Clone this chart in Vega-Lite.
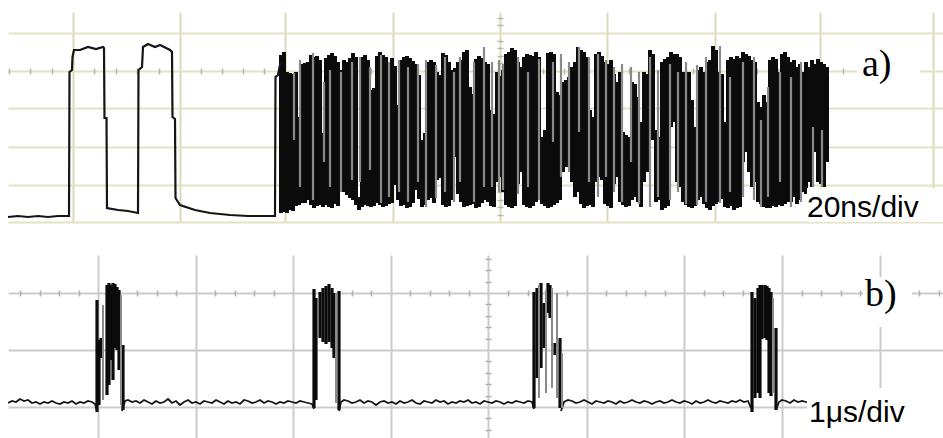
{
"$schema": "https://vega.github.io/schema/vega-lite/v6.json",
"padding": {"left": 8, "top": 12, "right": 0, "bottom": 0},
"background": "white",
"spacing": 33,
"bounds": "flush",
"config": {"view": {"stroke": null}},
"datasets": {
"aBlack": [{"x":273,"hi":167,"lo":9},{"x":276,"hi":170,"lo":10},{"x":279,"hi":150,"lo":9},{"x":282,"hi":149,"lo":12},{"x":285,"hi":148,"lo":11},{"x":288,"hi":150,"lo":16},{"x":291,"hi":105,"lo":17},{"x":294,"hi":158,"lo":19},{"x":297,"hi":159,"lo":19},{"x":300,"hi":160,"lo":22},{"x":303,"hi":167,"lo":17},{"x":306,"hi":165,"lo":14},{"x":309,"hi":166,"lo":16},{"x":312,"hi":162,"lo":17},{"x":315,"hi":89,"lo":15},{"x":318,"hi":164,"lo":17},{"x":321,"hi":167,"lo":15},{"x":324,"hi":169,"lo":14},{"x":327,"hi":166,"lo":18},{"x":330,"hi":160,"lo":16},{"x":333,"hi":152,"lo":34},{"x":336,"hi":162,"lo":30},{"x":339,"hi":160,"lo":27},{"x":342,"hi":164,"lo":24},{"x":345,"hi":169,"lo":22},{"x":348,"hi":165,"lo":17},{"x":351,"hi":25,"lo":12},{"x":354,"hi":165,"lo":15},{"x":357,"hi":167,"lo":17},{"x":360,"hi":162,"lo":16},{"x":363,"hi":132,"lo":15},{"x":366,"hi":134,"lo":16},{"x":369,"hi":166,"lo":19},{"x":372,"hi":170,"lo":17},{"x":375,"hi":167,"lo":15},{"x":378,"hi":165,"lo":16},{"x":381,"hi":160,"lo":18},{"x":384,"hi":164,"lo":19},{"x":387,"hi":156,"lo":37},{"x":390,"hi":117,"lo":22},{"x":393,"hi":162,"lo":16},{"x":396,"hi":165,"lo":17},{"x":399,"hi":166,"lo":14},{"x":402,"hi":164,"lo":15},{"x":405,"hi":161,"lo":19},{"x":408,"hi":158,"lo":32},{"x":411,"hi":147,"lo":23},{"x":414,"hi":82,"lo":15},{"x":417,"hi":89,"lo":17},{"x":420,"hi":160,"lo":22},{"x":423,"hi":162,"lo":24},{"x":426,"hi":160,"lo":19},{"x":429,"hi":150,"lo":42},{"x":432,"hi":147,"lo":44},{"x":435,"hi":169,"lo":17},{"x":438,"hi":167,"lo":15},{"x":441,"hi":160,"lo":16},{"x":444,"hi":152,"lo":22},{"x":447,"hi":154,"lo":65},{"x":450,"hi":160,"lo":28},{"x":453,"hi":162,"lo":20},{"x":456,"hi":170,"lo":15},{"x":459,"hi":172,"lo":16},{"x":462,"hi":135,"lo":17},{"x":465,"hi":128,"lo":18},{"x":468,"hi":163,"lo":14},{"x":471,"hi":166,"lo":15},{"x":474,"hi":164,"lo":19},{"x":477,"hi":160,"lo":22},{"x":480,"hi":158,"lo":20},{"x":483,"hi":112,"lo":16},{"x":486,"hi":108,"lo":15},{"x":489,"hi":150,"lo":40},{"x":492,"hi":146,"lo":45},{"x":495,"hi":152,"lo":30},{"x":498,"hi":168,"lo":17},{"x":501,"hi":170,"lo":15},{"x":504,"hi":174,"lo":14},{"x":507,"hi":172,"lo":16},{"x":510,"hi":160,"lo":38},{"x":513,"hi":155,"lo":50},{"x":516,"hi":165,"lo":17},{"x":519,"hi":168,"lo":15},{"x":522,"hi":167,"lo":14},{"x":525,"hi":166,"lo":16},{"x":528,"hi":170,"lo":20},{"x":531,"hi":165,"lo":24},{"x":534,"hi":85,"lo":18},{"x":537,"hi":92,"lo":16},{"x":540,"hi":169,"lo":14},{"x":543,"hi":170,"lo":15},{"x":546,"hi":168,"lo":17},{"x":549,"hi":130,"lo":19},{"x":552,"hi":127,"lo":22},{"x":555,"hi":140,"lo":50},{"x":558,"hi":142,"lo":55},{"x":561,"hi":145,"lo":60},{"x":564,"hi":155,"lo":40},{"x":567,"hi":160,"lo":25},{"x":570,"hi":175,"lo":30},{"x":573,"hi":172,"lo":18},{"x":576,"hi":170,"lo":14},{"x":579,"hi":165,"lo":16},{"x":582,"hi":112,"lo":17},{"x":585,"hi":105,"lo":15},{"x":588,"hi":168,"lo":40},{"x":591,"hi":170,"lo":45},{"x":594,"hi":166,"lo":42},{"x":597,"hi":160,"lo":18},{"x":600,"hi":158,"lo":16},{"x":603,"hi":162,"lo":14},{"x":606,"hi":148,"lo":38},{"x":609,"hi":140,"lo":45},{"x":612,"hi":150,"lo":20},{"x":615,"hi":90,"lo":17},{"x":618,"hi":87,"lo":15},{"x":621,"hi":85,"lo":16},{"x":624,"hi":140,"lo":22},{"x":627,"hi":138,"lo":25},{"x":630,"hi":125,"lo":20},{"x":633,"hi":100,"lo":15},{"x":636,"hi":150,"lo":40},{"x":639,"hi":148,"lo":50},{"x":642,"hi":172,"lo":85},{"x":645,"hi":168,"lo":82},{"x":648,"hi":92,"lo":20},{"x":651,"hi":85,"lo":22},{"x":654,"hi":160,"lo":12},{"x":657,"hi":163,"lo":14},{"x":660,"hi":165,"lo":16},{"x":663,"hi":170,"lo":95},{"x":666,"hi":168,"lo":100},{"x":669,"hi":168,"lo":40},{"x":672,"hi":165,"lo":35},{"x":675,"hi":150,"lo":20},{"x":678,"hi":145,"lo":17},{"x":681,"hi":150,"lo":15},{"x":684,"hi":122,"lo":14},{"x":687,"hi":95,"lo":16},{"x":690,"hi":152,"lo":22},{"x":693,"hi":155,"lo":25},{"x":696,"hi":150,"lo":18},{"x":699,"hi":160,"lo":14},{"x":702,"hi":162,"lo":12},{"x":705,"hi":176,"lo":16},{"x":708,"hi":172,"lo":18},{"x":711,"hi":150,"lo":20},{"x":714,"hi":148,"lo":23},{"x":717,"hi":100,"lo":15},{"x":720,"hi":162,"lo":14},{"x":723,"hi":165,"lo":16},{"x":726,"hi":163,"lo":12},{"x":729,"hi":166,"lo":14},{"x":732,"hi":164,"lo":15},{"x":735,"hi":170,"lo":60},{"x":738,"hi":168,"lo":70},{"x":741,"hi":166,"lo":50},{"x":744,"hi":162,"lo":35},{"x":747,"hi":160,"lo":40},{"x":750,"hi":120,"lo":20},{"x":753,"hi":115,"lo":18},{"x":756,"hi":127,"lo":15},{"x":759,"hi":120,"lo":14},{"x":762,"hi":162,"lo":14},{"x":765,"hi":165,"lo":16},{"x":768,"hi":163,"lo":15},{"x":771,"hi":150,"lo":17},{"x":774,"hi":168,"lo":16},{"x":777,"hi":170,"lo":18},{"x":780,"hi":165,"lo":20},{"x":783,"hi":160,"lo":20},{"x":786,"hi":162,"lo":25},{"x":789,"hi":155,"lo":18},{"x":792,"hi":158,"lo":22},{"x":795,"hi":150,"lo":30},{"x":798,"hi":160,"lo":28},{"x":801,"hi":155,"lo":40},{"x":804,"hi":162,"lo":35},{"x":807,"hi":158,"lo":70},{"x":810,"hi":163,"lo":40},{"x":813,"hi":160,"lo":38},{"x":816,"hi":158,"lo":35},{"x":819,"hi":155,"lo":60}],
"aGrey": [{"x":286,"hi":149,"lo":82},{"x":292,"hi":162,"lo":35},{"x":305,"hi":169,"lo":22},{"x":316,"hi":140,"lo":60},{"x":322,"hi":152,"lo":35},{"x":333,"hi":150,"lo":30},{"x":344,"hi":160,"lo":42},{"x":352,"hi":165,"lo":40},{"x":362,"hi":155,"lo":52},{"x":373,"hi":167,"lo":19},{"x":381,"hi":160,"lo":25},{"x":391,"hi":162,"lo":30},{"x":400,"hi":155,"lo":20},{"x":410,"hi":158,"lo":40},{"x":418,"hi":162,"lo":15},{"x":428,"hi":157,"lo":24},{"x":437,"hi":165,"lo":30},{"x":446,"hi":150,"lo":20},{"x":452,"hi":165,"lo":40},{"x":466,"hi":160,"lo":20},{"x":476,"hi":175,"lo":35},{"x":484,"hi":160,"lo":35},{"x":491,"hi":162,"lo":30},{"x":495,"hi":158,"lo":32},{"x":510,"hi":165,"lo":28},{"x":520,"hi":150,"lo":35},{"x":531,"hi":163,"lo":22},{"x":545,"hi":160,"lo":80},{"x":553,"hi":168,"lo":45},{"x":561,"hi":160,"lo":50},{"x":571,"hi":175,"lo":90},{"x":581,"hi":165,"lo":40},{"x":590,"hi":168,"lo":25},{"x":598,"hi":162,"lo":45},{"x":606,"hi":155,"lo":30},{"x":614,"hi":158,"lo":20},{"x":623,"hi":155,"lo":60},{"x":631,"hi":150,"lo":18},{"x":642,"hi":165,"lo":15},{"x":650,"hi":152,"lo":25},{"x":662,"hi":158,"lo":22},{"x":670,"hi":150,"lo":30},{"x":678,"hi":160,"lo":18},{"x":689,"hi":157,"lo":17},{"x":698,"hi":165,"lo":20},{"x":712,"hi":176,"lo":19},{"x":722,"hi":145,"lo":30},{"x":735,"hi":160,"lo":25},{"x":746,"hi":165,"lo":22},{"x":753,"hi":102,"lo":15},{"x":760,"hi":135,"lo":25},{"x":772,"hi":150,"lo":40},{"x":783,"hi":145,"lo":15},{"x":793,"hi":160,"lo":20},{"x":805,"hi":95,"lo":35},{"x":814,"hi":92,"lo":35}],
"aTrace": [{"x":0,"y":5},{"x":10,"y":6},{"x":20,"y":5},{"x":30,"y":6},{"x":40,"y":5},{"x":50,"y":6},{"x":61,"y":6},{"x":61.5,"y":150},{"x":64,"y":152},{"x":64.5,"y":165},{"x":66,"y":172},{"x":72,"y":172},{"x":80,"y":175},{"x":88,"y":173},{"x":95,"y":175},{"x":96,"y":174},{"x":96.5,"y":104},{"x":98.5,"y":104},{"x":99,"y":14},{"x":110,"y":12},{"x":120,"y":11},{"x":130,"y":9},{"x":130.5,"y":152},{"x":134,"y":155},{"x":135,"y":175},{"x":140,"y":178},{"x":147,"y":175},{"x":152,"y":177},{"x":162,"y":172},{"x":164,"y":170},{"x":164.5,"y":105},{"x":167,"y":103},{"x":167.5,"y":24},{"x":172,"y":17},{"x":187,"y":12},{"x":202,"y":9},{"x":222,"y":7},{"x":240,"y":6},{"x":255,"y":6},{"x":267,"y":6},{"x":267.5,"y":145},{"x":270,"y":147},{"x":272,"y":157},{"x":273,"y":160}],
"aBox": [{"x":849,"x2":912,"y":177,"y2":122},{"x":799,"x2":935,"y":34,"y2":0}],
"aSerif": [{"x":854,"y":146,"t":"a)"}],
"aSans": [{"x":799,"y":5,"t":"20ns/div"}],
"bBlack": [{"x":89,"hi":138,"lo":26},{"x":91,"hi":98,"lo":33},{"x":93,"hi":100,"lo":80},{"x":99,"hi":153,"lo":43},{"x":101,"hi":155,"lo":53},{"x":103,"hi":153,"lo":78},{"x":105,"hi":155,"lo":58},{"x":107,"hi":154,"lo":90},{"x":109,"hi":151,"lo":88},{"x":111,"hi":148,"lo":68},{"x":115,"hi":93,"lo":28},{"x":306,"hi":149,"lo":30},{"x":308,"hi":140,"lo":38},{"x":312,"hi":146,"lo":100},{"x":315,"hi":150,"lo":96},{"x":318,"hi":152,"lo":94},{"x":321,"hi":154,"lo":96},{"x":324,"hi":150,"lo":90},{"x":326,"hi":145,"lo":80},{"x":331,"hi":147,"lo":28},{"x":526,"hi":146,"lo":30},{"x":529,"hi":150,"lo":60},{"x":533,"hi":155,"lo":70},{"x":536,"hi":135,"lo":90},{"x":540,"hi":155,"lo":125},{"x":542,"hi":153,"lo":120},{"x":547,"hi":95,"lo":83},{"x":552,"hi":100,"lo":30},{"x":744,"hi":146,"lo":26},{"x":747,"hi":140,"lo":40},{"x":750,"hi":150,"lo":45},{"x":752,"hi":153,"lo":40},{"x":754,"hi":153,"lo":99},{"x":757,"hi":153,"lo":100},{"x":759,"hi":152,"lo":98},{"x":761,"hi":150,"lo":45},{"x":763,"hi":146,"lo":42},{"x":768,"hi":110,"lo":28}],
"bGrey": [{"x":95,"hi":133,"lo":38},{"x":113,"hi":143,"lo":33},{"x":328,"hi":145,"lo":35},{"x":531,"hi":153,"lo":40},{"x":538,"hi":148,"lo":45},{"x":544,"hi":150,"lo":50},{"x":549,"hi":145,"lo":40},{"x":554,"hi":85,"lo":30},{"x":765,"hi":140,"lo":45}],
"bTrace": [{"x":0,"y":35,"s":1},{"x":4,"y":37,"s":1},{"x":8,"y":36,"s":1},{"x":12,"y":39,"s":1},{"x":16,"y":37,"s":1},{"x":20,"y":38,"s":1},{"x":24,"y":35,"s":1},{"x":28,"y":36,"s":1},{"x":32,"y":34,"s":1},{"x":36,"y":36,"s":1},{"x":40,"y":35,"s":1},{"x":44,"y":37,"s":1},{"x":48,"y":35,"s":1},{"x":52,"y":34,"s":1},{"x":56,"y":36,"s":1},{"x":60,"y":35,"s":1},{"x":64,"y":37,"s":1},{"x":68,"y":34,"s":1},{"x":72,"y":36,"s":1},{"x":76,"y":35,"s":1},{"x":80,"y":37,"s":1},{"x":84,"y":36,"s":1},{"x":87,"y":34,"s":1},{"x":89,"y":27,"s":1},
{"x":114,"y":27,"s":2},{"x":117,"y":37,"s":2},{"x":120,"y":38,"s":2},{"x":124,"y":36,"s":2},{"x":128,"y":37,"s":2},{"x":132,"y":35,"s":2},{"x":136,"y":38,"s":2},{"x":140,"y":36,"s":2},{"x":144,"y":34,"s":2},{"x":148,"y":37,"s":2},{"x":152,"y":35,"s":2},{"x":156,"y":36,"s":2},{"x":160,"y":39,"s":2},{"x":164,"y":35,"s":2},{"x":168,"y":37,"s":2},{"x":172,"y":33,"s":2},{"x":176,"y":36,"s":2},{"x":180,"y":38,"s":2},{"x":184,"y":35,"s":2},{"x":188,"y":36,"s":2},{"x":192,"y":34,"s":2},{"x":196,"y":37,"s":2},{"x":200,"y":36,"s":2},{"x":204,"y":35,"s":2},{"x":208,"y":38,"s":2},{"x":212,"y":36,"s":2},{"x":216,"y":34,"s":2},{"x":220,"y":37,"s":2},{"x":224,"y":35,"s":2},{"x":228,"y":36,"s":2},{"x":232,"y":34,"s":2},{"x":236,"y":38,"s":2},{"x":240,"y":37,"s":2},{"x":244,"y":35,"s":2},{"x":248,"y":36,"s":2},{"x":252,"y":38,"s":2},{"x":256,"y":35,"s":2},{"x":260,"y":37,"s":2},{"x":264,"y":36,"s":2},{"x":268,"y":34,"s":2},{"x":272,"y":36,"s":2},{"x":276,"y":35,"s":2},{"x":280,"y":37,"s":2},{"x":284,"y":36,"s":2},{"x":288,"y":35,"s":2},{"x":292,"y":37,"s":2},{"x":296,"y":36,"s":2},{"x":300,"y":35,"s":2},{"x":304,"y":34,"s":2},{"x":306,"y":29,"s":2},
{"x":331,"y":27,"s":3},{"x":333,"y":36,"s":3},{"x":336,"y":38,"s":3},{"x":340,"y":37,"s":3},{"x":344,"y":35,"s":3},{"x":348,"y":36,"s":3},{"x":352,"y":38,"s":3},{"x":356,"y":35,"s":3},{"x":360,"y":37,"s":3},{"x":364,"y":36,"s":3},{"x":368,"y":33,"s":3},{"x":372,"y":36,"s":3},{"x":376,"y":37,"s":3},{"x":380,"y":35,"s":3},{"x":384,"y":36,"s":3},{"x":388,"y":34,"s":3},{"x":392,"y":37,"s":3},{"x":396,"y":35,"s":3},{"x":400,"y":36,"s":3},{"x":404,"y":38,"s":3},{"x":408,"y":35,"s":3},{"x":412,"y":34,"s":3},{"x":416,"y":37,"s":3},{"x":420,"y":36,"s":3},{"x":424,"y":35,"s":3},{"x":428,"y":38,"s":3},{"x":432,"y":36,"s":3},{"x":436,"y":37,"s":3},{"x":440,"y":34,"s":3},{"x":444,"y":36,"s":3},{"x":448,"y":35,"s":3},{"x":452,"y":37,"s":3},{"x":456,"y":36,"s":3},{"x":460,"y":38,"s":3},{"x":464,"y":35,"s":3},{"x":468,"y":36,"s":3},{"x":472,"y":34,"s":3},{"x":476,"y":37,"s":3},{"x":480,"y":36,"s":3},{"x":484,"y":35,"s":3},{"x":488,"y":37,"s":3},{"x":492,"y":36,"s":3},{"x":496,"y":34,"s":3},{"x":500,"y":36,"s":3},{"x":504,"y":35,"s":3},{"x":508,"y":37,"s":3},{"x":512,"y":36,"s":3},{"x":516,"y":35,"s":3},{"x":520,"y":37,"s":3},{"x":524,"y":36,"s":3},{"x":526,"y":29,"s":3},
{"x":553,"y":27,"s":4},{"x":556,"y":36,"s":4},{"x":560,"y":38,"s":4},{"x":564,"y":37,"s":4},{"x":568,"y":35,"s":4},{"x":572,"y":36,"s":4},{"x":576,"y":38,"s":4},{"x":580,"y":36,"s":4},{"x":584,"y":34,"s":4},{"x":588,"y":37,"s":4},{"x":592,"y":36,"s":4},{"x":596,"y":35,"s":4},{"x":600,"y":37,"s":4},{"x":604,"y":36,"s":4},{"x":608,"y":34,"s":4},{"x":612,"y":37,"s":4},{"x":616,"y":35,"s":4},{"x":620,"y":36,"s":4},{"x":624,"y":38,"s":4},{"x":628,"y":36,"s":4},{"x":632,"y":35,"s":4},{"x":636,"y":37,"s":4},{"x":640,"y":36,"s":4},{"x":644,"y":34,"s":4},{"x":648,"y":36,"s":4},{"x":652,"y":37,"s":4},{"x":656,"y":35,"s":4},{"x":660,"y":36,"s":4},{"x":664,"y":38,"s":4},{"x":668,"y":36,"s":4},{"x":672,"y":35,"s":4},{"x":676,"y":37,"s":4},{"x":680,"y":36,"s":4},{"x":684,"y":34,"s":4},{"x":688,"y":37,"s":4},{"x":692,"y":35,"s":4},{"x":696,"y":36,"s":4},{"x":700,"y":38,"s":4},{"x":704,"y":36,"s":4},{"x":708,"y":35,"s":4},{"x":712,"y":37,"s":4},{"x":716,"y":36,"s":4},{"x":720,"y":35,"s":4},{"x":724,"y":37,"s":4},{"x":728,"y":36,"s":4},{"x":732,"y":38,"s":4},{"x":736,"y":36,"s":4},{"x":740,"y":37,"s":4},{"x":743,"y":30,"s":4},
{"x":768,"y":28,"s":5},{"x":771,"y":36,"s":5},{"x":774,"y":38,"s":5},{"x":778,"y":37,"s":5},{"x":782,"y":35,"s":5},{"x":786,"y":38,"s":5},{"x":790,"y":36,"s":5},{"x":794,"y":37,"s":5},{"x":798,"y":36,"s":5},{"x":802,"y":35,"s":5}],
"bBox": [{"x":855,"x2":904,"y":161,"y2":111},{"x":799,"x2":935,"y":50,"y2":0}],
"bSerif": [{"x":857,"y":132,"t":"b)"}],
"bSans": [{"x":801,"y":16,"t":"1μs/div"}]
},
"vconcat": [
{
"width": 935, "height": 210,
"resolve": {"axis": {"x": "independent", "y": "independent"}},
"layer": [
{"data": {"name": "aBlack"},
 "mark": {"type": "rule", "strokeWidth": 4, "color": "#0b0b0b", "clip": true},
 "encoding": {
  "x": {"field": "x", "type": "quantitative", "scale": {"domain": [0, 935], "nice": false, "zero": false},
   "axis": {"orient": "bottom", "grid": true, "values": [65,172,277,385,492,599,707,812,925], "gridColor": "#dcd9bb", "gridWidth": 2, "ticks": false, "labels": false, "domain": false, "title": null, "zindex": 0}},
  "y": {"field": "hi", "type": "quantitative", "scale": {"domain": [0, 210], "nice": false, "zero": false},
   "axis": {"orient": "left", "grid": true, "values": [0,37,75,114,151,189], "gridColor": "#e4e1c4", "gridWidth": 2, "ticks": false, "labels": false, "domain": false, "title": null, "zindex": 0}},
  "y2": {"field": "lo"}
 }},
{"data": {"name": "aTrace"},
 "mark": {"type": "line", "strokeWidth": 2.2, "color": "#151515", "clip": true},
 "encoding": {
  "x": {"field": "x", "type": "quantitative", "scale": {"domain": [0, 935], "nice": false, "zero": false},
   "axis": {"orient": "top", "offset": -62, "values": [0.8,22.2,43.6,86.4,107.8,129.2,150.6,193,214,235,256,298.6,320.2,341.8,363.4,406.4,427.8,449.2,470.6,513.4,534.8,556.2,577.6,620.6,642.2,663.8,685.4,728,749,770,791,834.6,857.2,879.8,902.4], "ticks": true, "tickSize": 6, "tickWidth": 1.5, "tickColor": "#b9b8a6", "grid": false, "labels": false, "domain": false, "title": null, "zindex": 0}},
  "y": {"field": "y", "type": "quantitative", "scale": {"domain": [0, 210], "nice": false, "zero": false},
   "axis": {"orient": "right", "offset": -446, "values": [7.4,14.8,22.2,29.6,44.6,52.2,59.8,67.4,82.8,90.6,98.4,106.2,121.4,128.8,136.2,143.6,158.6,166.2,173.8,181.4,196.6,204.2], "ticks": true, "tickSize": 6, "tickWidth": 1.5, "tickColor": "#b9b8a6", "grid": false, "labels": false, "domain": false, "title": null, "zindex": 0}}
 }},
{"data": {"name": "aGrey"},
 "mark": {"type": "rule", "strokeWidth": 2.2, "color": "#8a8a8a", "clip": true},
 "encoding": {
  "x": {"field": "x", "type": "quantitative", "scale": {"domain": [0, 935], "nice": false, "zero": false}, "axis": null},
  "y": {"field": "hi", "type": "quantitative", "scale": {"domain": [0, 210], "nice": false, "zero": false}, "axis": null},
  "y2": {"field": "lo"}
 }},
{"data": {"name": "aBox"},
 "mark": {"type": "rect", "color": "white"},
 "encoding": {
  "x": {"field": "x", "type": "quantitative", "scale": {"domain": [0, 935], "nice": false, "zero": false}, "axis": null},
  "x2": {"field": "x2"},
  "y": {"field": "y", "type": "quantitative", "scale": {"domain": [0, 210], "nice": false, "zero": false}, "axis": null},
  "y2": {"field": "y2"}
 }},
{"data": {"name": "aSerif"},
 "mark": {"type": "text", "font": "Liberation Serif", "fontSize": 38, "align": "left", "baseline": "alphabetic", "color": "black"},
 "encoding": {
  "x": {"field": "x", "type": "quantitative", "scale": {"domain": [0, 935], "nice": false, "zero": false}, "axis": null},
  "y": {"field": "y", "type": "quantitative", "scale": {"domain": [0, 210], "nice": false, "zero": false}, "axis": null},
  "text": {"field": "t"}
 }},
{"data": {"name": "aSans"},
 "mark": {"type": "text", "font": "Liberation Sans", "fontSize": 30, "align": "left", "baseline": "alphabetic", "color": "black"},
 "encoding": {
  "x": {"field": "x", "type": "quantitative", "scale": {"domain": [0, 935], "nice": false, "zero": false}, "axis": null},
  "y": {"field": "y", "type": "quantitative", "scale": {"domain": [0, 210], "nice": false, "zero": false}, "axis": null},
  "text": {"field": "t"}
 }}
]
},
{
"width": 935, "height": 183,
"resolve": {"axis": {"x": "independent", "y": "independent"}},
"layer": [
{"data": {"name": "bBlack"},
 "mark": {"type": "rule", "strokeWidth": 3.2, "color": "#0b0b0b", "clip": true},
 "encoding": {
  "x": {"field": "x", "type": "quantitative", "scale": {"domain": [0, 935], "nice": false, "zero": false},
   "axis": {"orient": "bottom", "grid": true, "values": [90,188,285,383,480,579,676,774,872], "gridColor": "#cbcbcb", "gridWidth": 2, "ticks": false, "labels": false, "domain": false, "title": null, "zindex": 0}},
  "y": {"field": "hi", "type": "quantitative", "scale": {"domain": [0, 183], "nice": false, "zero": false},
   "axis": {"orient": "left", "grid": true, "values": [31,88,145], "gridColor": "#cbcbcb", "gridWidth": 2, "ticks": false, "labels": false, "domain": false, "title": null, "zindex": 0}},
  "y2": {"field": "lo"}
 }},
{"data": {"name": "bTrace"},
 "mark": {"type": "line", "strokeWidth": 1.8, "color": "#151515", "clip": true},
 "encoding": {
  "x": {"field": "x", "type": "quantitative", "scale": {"domain": [0, 935], "nice": false, "zero": false},
   "axis": {"orient": "top", "offset": -41, "values": [12,31.5,51,70.5,109.6,129.2,148.8,168.4,207.4,226.8,246.2,265.6,304.6,324.2,343.8,363.4,402.4,421.8,441.2,460.6,499.8,519.6,539.4,559.2,598.4,617.8,637.2,656.6,695.6,715.2,734.8,754.4,793.6,813.2,832.8,852.4,891.5,911,930.5], "ticks": true, "tickSize": 6, "tickWidth": 1.5, "tickColor": "#b0b0b0", "grid": false, "labels": false, "domain": false, "title": null, "zindex": 0}},
  "y": {"field": "y", "type": "quantitative", "scale": {"domain": [0, 183], "nice": false, "zero": false},
   "axis": {"orient": "right", "offset": -458, "values": [8.2,19.6,42.4,53.8,65.2,76.6,99.4,110.8,122.2,133.6,156.4,167.8,179.2], "ticks": true, "tickSize": 6, "tickWidth": 1.5, "tickColor": "#b0b0b0", "grid": false, "labels": false, "domain": false, "title": null, "zindex": 0}},
  "detail": {"field": "s", "type": "nominal"}
 }},
{"data": {"name": "bGrey"},
 "mark": {"type": "rule", "strokeWidth": 2, "color": "#8a8a8a", "clip": true},
 "encoding": {
  "x": {"field": "x", "type": "quantitative", "scale": {"domain": [0, 935], "nice": false, "zero": false}, "axis": null},
  "y": {"field": "hi", "type": "quantitative", "scale": {"domain": [0, 183], "nice": false, "zero": false}, "axis": null},
  "y2": {"field": "lo"}
 }},
{"data": {"name": "bBox"},
 "mark": {"type": "rect", "color": "white"},
 "encoding": {
  "x": {"field": "x", "type": "quantitative", "scale": {"domain": [0, 935], "nice": false, "zero": false}, "axis": null},
  "x2": {"field": "x2"},
  "y": {"field": "y", "type": "quantitative", "scale": {"domain": [0, 183], "nice": false, "zero": false}, "axis": null},
  "y2": {"field": "y2"}
 }},
{"data": {"name": "bSerif"},
 "mark": {"type": "text", "font": "Liberation Serif", "fontSize": 38, "align": "left", "baseline": "alphabetic", "color": "black"},
 "encoding": {
  "x": {"field": "x", "type": "quantitative", "scale": {"domain": [0, 935], "nice": false, "zero": false}, "axis": null},
  "y": {"field": "y", "type": "quantitative", "scale": {"domain": [0, 183], "nice": false, "zero": false}, "axis": null},
  "text": {"field": "t"}
 }},
{"data": {"name": "bSans"},
 "mark": {"type": "text", "font": "Liberation Sans", "fontSize": 30, "align": "left", "baseline": "alphabetic", "color": "black"},
 "encoding": {
  "x": {"field": "x", "type": "quantitative", "scale": {"domain": [0, 935], "nice": false, "zero": false}, "axis": null},
  "y": {"field": "y", "type": "quantitative", "scale": {"domain": [0, 183], "nice": false, "zero": false}, "axis": null},
  "text": {"field": "t"}
 }}
]
}
]
}
